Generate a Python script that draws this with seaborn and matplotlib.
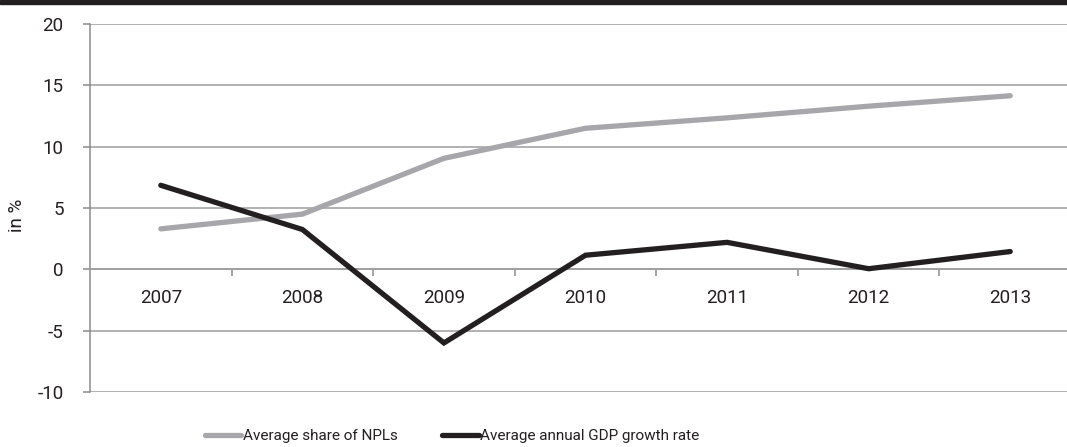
import matplotlib
matplotlib.use("Agg")
import matplotlib.pyplot as plt
from matplotlib import font_manager
from matplotlib.patches import Rectangle
from matplotlib.ticker import FixedLocator
import numpy as np
import pandas as pd
import seaborn as sns

years = ["2007", "2008", "2009", "2010", "2011", "2012", "2013"]
npl_share = [3.3, 4.5, 9.05, 11.5, 12.35, 13.3, 14.15]
gdp_growth = [6.85, 3.25, -6.0, 1.15, 2.2, 0.05, 1.45]
series_names = ["Average share of NPLs", "Average annual GDP growth rate"]
y_ticks = [-10, -5, 0, 5, 10, 15, 20]

sns.set_theme(style="white")

family = "DejaVu Sans"
for cand in ["Liberation Sans Narrow", "Roboto", "Open Sans"]:
    try:
        font_manager.findfont(font_manager.FontProperties(family=cand),
                              fallback_to_default=False)
        family = cand
        break
    except Exception:
        continue
plt.rcParams["font.family"] = [family, "DejaVu Sans"]

df = pd.DataFrame({
    "pos": list(range(len(years))) * 2,
    "value": npl_share + gdp_growth,
    "series": [series_names[0]] * len(years) + [series_names[1]] * len(years),
})

fig = plt.figure(figsize=(10.67, 4.47), dpi=100)
ax = fig.add_axes([90 / 1067, 1 - 392 / 447, (1081 - 90) / 1067, (392 - 24) / 447])

palette = {series_names[0]: "#a7a7ab", series_names[1]: "#231f20"}
sns.lineplot(data=df, x="pos", y="value", hue="series", palette=palette,
             linewidth=3.8, ax=ax, legend=False, sort=False)
for ln in ax.get_lines():
    ln.set_solid_capstyle("round")
    ln.set_solid_joinstyle("miter")
    ln.set_zorder(3)

ax.set_xlim(-0.5, len(years) - 0.5)
ax.set_ylim(-10, 20)
ax.set_yticks(y_ticks)
ax.set_yticklabels([str(v) for v in y_ticks], fontsize=13.5, color="#231f20")
ax.yaxis.grid(True, color="#9c9c9c", linewidth=1.1)
ax.set_axisbelow(True)

for s in ["top", "right"]:
    ax.spines[s].set_visible(False)
ax.spines["left"].set_color("#8c8c8c")
ax.spines["left"].set_linewidth(1.1)
ax.spines["bottom"].set_position(("data", 0))
ax.spines["bottom"].set_color("#9c9c9c")
ax.spines["bottom"].set_linewidth(1.1)

ax.xaxis.set_major_locator(FixedLocator(range(len(years))))
ax.set_xticklabels(years, fontsize=13.5, color="#231f20")
ax.xaxis.set_minor_locator(FixedLocator(np.arange(0.5, len(years), 1.0)))
ax.tick_params(axis="x", which="major", length=0, pad=14)
ax.tick_params(axis="x", which="minor", length=5, width=1.1, color="#8c8c8c",
               direction="out", bottom=True)
ax.tick_params(axis="y", which="major", length=5, width=1.1, color="#8c8c8c",
               direction="out", left=True, pad=14)

ax.set_xlabel("")
ax.set_ylabel("in %", fontsize=13.5, color="#231f20")
ax.yaxis.set_label_coords(-64 / 991, 0.48)

handles = [plt.Line2D([], [], color=palette[n], linewidth=3.8,
                      solid_capstyle="round") for n in series_names]
fig.legend(handles, series_names, loc="center", ncol=2,
           bbox_to_anchor=(452 / 1067, 1 - 436 / 447), frameon=False,
           fontsize=11, handlelength=2.4, handletextpad=0.1,
           columnspacing=2.9, labelcolor="#231f20")

fig.add_artist(Rectangle((0, 1 - 4 / 447), 1, 4 / 447, transform=fig.transFigure,
                         color="#231f20", zorder=10))

fig.savefig("out.png", dpi=100)
